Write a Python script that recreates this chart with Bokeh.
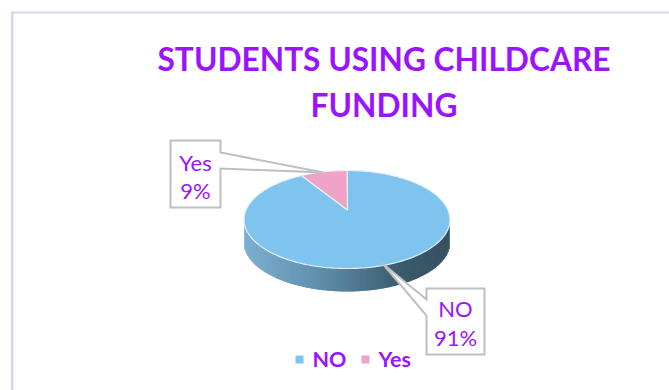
import numpy as np
from bokeh.core.properties import value
from bokeh.embed import file_html
from bokeh.models import ColumnDataSource, Range1d
from bokeh.plotting import figure
from bokeh.resources import INLINE

categories = ["NO", "Yes"]
shares = [91, 9]
colors = ["#7FC4EE", "#F0A3C6"]
title_lines = ["STUDENTS USING CHILDCARE", "FUNDING"]

PURPLE = "#9A14FF"
FONT = value("Lato")
CALLOUT = "#BFBFBF"

p = figure(width=669, height=390, output_backend="svg", toolbar_location=None,
           x_range=Range1d(0, 669), y_range=Range1d(390, 0), min_border=0)
p.axis.visible = False
p.grid.visible = False
p.outline_line_color = None
p.background_fill_color = "white"
p.border_fill_color = "white"

# page frame: only the top and left rules show
p.quad(left=[10.5], right=[13], top=[11], bottom=[390], fill_color="#E6CEFA", line_color=None)
p.quad(left=[10.5], right=[669], top=[11], bottom=[13], fill_color="#E6CEFA", line_color=None)

# tilted pie: the apex sits above the ellipse centre for perspective
cx, cy, rx, ry, depth = 346.5, 219.0, 103.0, 49.0, 23.0
apex_x, apex_y = 347.0, 209.5


def rim_angle(share):
    """Parametric ellipse angle hit by the slice edge ending at this share, clockwise from top."""
    a = np.radians(share * 3.6)
    dx, dy = np.sin(a) * rx, -np.cos(a) * ry
    ox, oy = (apex_x - cx) / rx, (apex_y - cy) / ry
    ux, uy = dx / rx, dy / ry
    qa = ux * ux + uy * uy
    qb = 2 * (ox * ux + oy * uy)
    qc = ox * ox + oy * oy - 1
    t = (-qb + np.sqrt(qb * qb - 4 * qa * qc)) / (2 * qa)
    return np.arctan2(ox + t * ux, -(oy + t * uy)) % (2 * np.pi)


def rim(theta, drop=0.0):
    return cx + rx * np.sin(theta), cy - ry * np.cos(theta) + drop


# side wall with a light-to-dark horizontal sweep
stops_x = [243, 300, 346, 400, 450]
stops_rgb = np.array([[120, 172, 206], [98, 148, 180], [78, 122, 148], [52, 84, 104], [46, 74, 92]])
edges = np.arange(244.0, 449.0, 1.0)
half = np.sqrt(np.clip(1 - ((edges + 0.5 - cx) / rx) ** 2, 0, 1)) * ry
wall_colors = ["#%02x%02x%02x" % tuple(int(np.interp(x, stops_x, stops_rgb[:, i])) for i in range(3))
               for x in edges]
p.quad(left=edges - 0.3, right=edges + 1.3, top=cy, bottom=cy + half + depth,
       fill_color=wall_colors, line_color=None)

# top face, one patch per category, going clockwise from twelve o'clock
start_share = 0.0
for name, share, color in zip(categories, shares, colors):
    end_share = start_share + share
    t0 = 0.0 if start_share == 0 else rim_angle(start_share)
    t1 = 2 * np.pi if end_share >= 100 else rim_angle(end_share)
    th = np.linspace(t0, t1, 240)
    x, y = rim(th)
    p.patch(np.r_[apex_x, x], np.r_[apex_y, y], fill_color=color,
            line_color="#E4F1FA", line_width=1.2)
    start_share = end_share

# callouts with pointer tails
callouts = {
    "Yes": ([170, 220, 220, 323, 220, 220, 170], [140, 140, 152, 172, 168, 207, 207]),
    "NO": ([426, 484, 484, 426, 426, 382, 426], [288, 288, 354, 354, 315, 263, 299]),
}
for name in categories:
    bx, by = callouts[name]
    p.patch(bx + bx[:1], by + by[:1], fill_color="white", line_color=CALLOUT, line_width=2,
            line_join="miter")

label_src = ColumnDataSource(dict(
    x=[455, 455, 195, 195],
    y=[308, 337, 162, 190],
    t=[categories[0], f"{shares[0]}%", categories[1], f"{shares[1]}%"],
))
p.text("x", "y", text="t", source=label_src, text_color=PURPLE, text_font=FONT,
       text_font_size="22px", text_align="center", text_baseline="middle")

# heading
p.text(x=[383.5, 383.5], y=[58, 104], text=title_lines, text_color=PURPLE, text_font=FONT,
       text_font_style="bold", text_font_size="31.7px", text_align="center",
       text_baseline="middle")

# legend row
p.scatter(x=[299, 365], y=[359, 359], marker="square", size=8, fill_color=colors, line_color=None)
p.text(x=[312, 378], y=[358, 358], text=categories, text_color=PURPLE, text_font=FONT,
       text_font_style="bold", text_font_size="21.5px", text_align="left", text_baseline="middle")

open("out.html", "w").write(file_html(p, INLINE))
